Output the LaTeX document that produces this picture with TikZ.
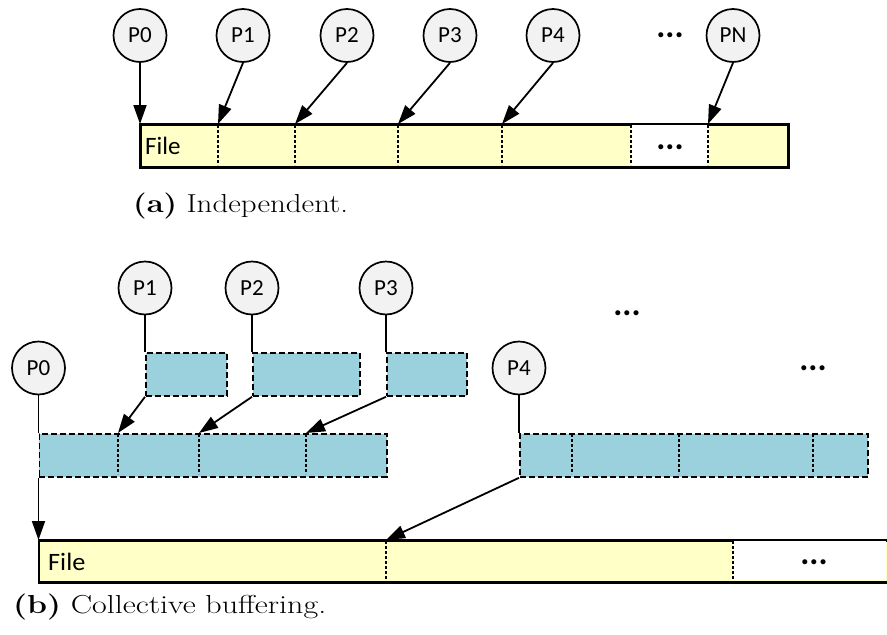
\documentclass[tikz,border=0pt]{standalone}
\usepackage{fontspec}
\newfontfamily\calfont{Carlito}
\usetikzlibrary{arrows.meta}
\definecolor{procgray}{HTML}{F2F2F2}
\definecolor{fileyellow}{HTML}{FFFFC8}
\definecolor{bufblue}{HTML}{9BD0DD}
\tikzset{
  proc/.style={circle, draw, line width=1.7pt, fill=procgray, minimum size=53pt,
               inner sep=0pt, font=\calfont\fontsize{23}{26}\selectfont},
  arr/.style={-{Triangle[length=19pt,width=13pt]}, line width=1.8pt},
  link/.style={line width=1.8pt},
  filebar/.style={draw, line width=1.9pt, fill=fileyellow, anchor=north west,
                  inner sep=0pt, minimum height=42pt},
  bufbox/.style={draw, line width=1.8pt, dash pattern=on 6pt off 3pt, fill=bufblue,
                 anchor=north west, inner sep=0pt, minimum height=43pt},
  divider/.style={line width=1.4pt, dash pattern=on 3pt off 2pt},
  dots/.style={font=\calfont\bfseries\fontsize{34}{36}\selectfont, inner sep=0pt},
  filelbl/.style={font=\calfont\fontsize{25}{28}\selectfont, anchor=base west, inner sep=0pt},
  captxt/.style={font=\fontsize{26}{30}\selectfont, anchor=base west, inner sep=0pt}
}
\begin{document}
\begin{tikzpicture}[x=1pt, y=-1pt]
\useasboundingbox (0,0) rectangle (887,635);

% ---------- (a) independent access ----------
\node[proc] (a0) at (140,35.5) {P0};
\node[proc] (a1) at (243,35.5) {P1};
\node[proc] (a2) at (347,35.5) {P2};
\node[proc] (a3) at (450,35.5) {P3};
\node[proc] (a4) at (553,35.5) {P4};
\node[proc] (aN) at (733,35.5) {PN};
\node[dots] (adots) at (670,35) {...};

\node[filebar, minimum width=647pt] (fa) at (140,124) {};
\fill[white] (631,125) rectangle (708,165);
\foreach \x in {218,295,398,502,631,708}
  \draw[divider] (\x,125) -- (\x,165);
\draw[line width=1.9pt] (fa.north west) rectangle (fa.south east);
\node[filelbl] (fta) at (145,154) {File};
\node[dots] (fadots) at (670,147) {...};

\coordinate (ta1) at (218,124);
\coordinate (ta2) at (295,124);
\coordinate (ta3) at (398,124);
\coordinate (ta4) at (502,124);
\coordinate (taN) at (708,124);

\draw[arr] (a0.south) -- (fa.north west);
\draw[arr] (a1.south) -- (ta1);
\draw[arr] (a2.south) -- (ta2);
\draw[arr] (a3.south) -- (ta3);
\draw[arr] (a4.south) -- (ta4);
\draw[arr] (aN.south) -- (taN);

\node[captxt] (capa) at (133,212) {\scalebox{1.19}[1]{\textbf{(a)} Independent.}};

% ---------- (b) collective buffering ----------
\node[proc] (b0) at (38.5,368) {P0};
\node[proc] (b1) at (145,288) {P1};
\node[proc] (b2) at (252,288) {P2};
\node[proc] (b3) at (386,288) {P3};
\node[proc] (b4) at (519,368) {P4};
\node[dots] (bdots1) at (627,313) {...};
\node[dots] (bdots2) at (813,368) {...};

% per-process buffers
\node[bufbox, minimum width=81pt]  (s1) at (145,352) {};
\node[bufbox, minimum width=107pt] (s2) at (252,352) {};
\node[bufbox, minimum width=80pt]  (s3) at (386,352) {};

% aggregator buffers
\node[bufbox, minimum width=347.5pt] (r1) at (38.5,433) {};
\foreach \x in {118,199,306}
  \draw[divider] (\x,434) -- (\x,474);
\node[bufbox, minimum width=348pt] (r2) at (519,433) {};
\foreach \x in {572,679,813}
  \draw[divider] (\x,434) -- (\x,474);

% file
\node[filebar, minimum width=850pt, minimum height=41pt] (fb) at (38.5,540) {};
\fill[white] (733,541) rectangle (886,580);
\foreach \x in {386,733}
  \draw[divider] (\x,541) -- (\x,580);
\draw[line width=1.9pt] (fb.north west) rectangle (fb.south east);
\node[filelbl] (ftb) at (48,570) {\scalebox{1.05}[1]{File}};
\node[dots] (fbdots) at (814,562) {...};

\coordinate (tr1) at (118,433);
\coordinate (tr2) at (199,433);
\coordinate (tr3) at (306,433);
\coordinate (tf1) at (386,540);

\draw[link] (b1.south) -- (s1.north west);
\draw[link] (b2.south) -- (s2.north west);
\draw[link] (b3.south) -- (s3.north west);
\draw[arr] (s1.south west) -- (tr1);
\draw[arr] (s2.south west) -- (tr2);
\draw[arr] (s3.south west) -- (tr3);

\draw[link] (b0.south) -- (r1.north west);
\draw[arr] (r1.south west) -- (fb.north west);
\draw[link] (b4.south) -- (r2.north west);
\draw[arr] (r2.south west) -- (tf1);

\node[captxt] (capb) at (13,613) {\scalebox{1.23}[1]{\textbf{(b)} Collective buffering.}};
\end{tikzpicture}
\end{document}
